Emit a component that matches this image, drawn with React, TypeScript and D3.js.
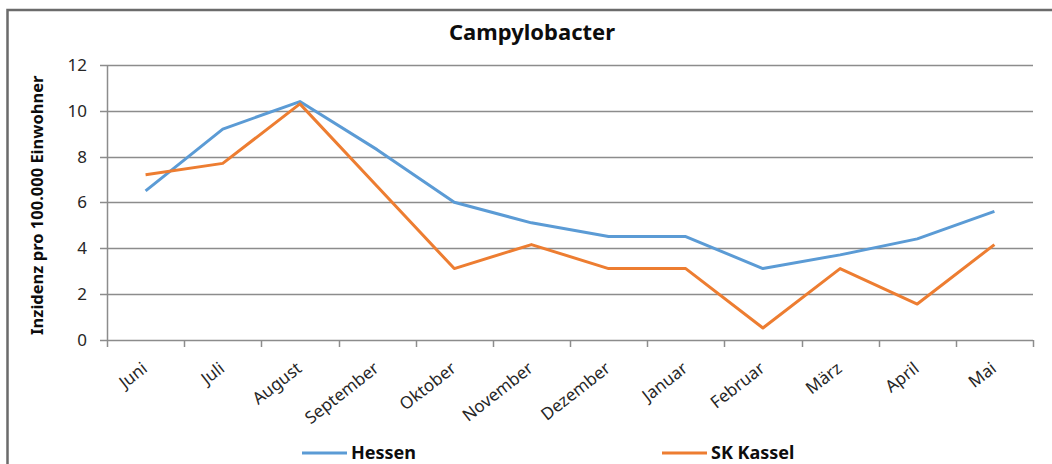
import { useEffect, useRef } from 'react';
import * as d3 from 'd3';

const months = [
  'Juni', 'Juli', 'August', 'September', 'Oktober', 'November',
  'Dezember', 'Januar', 'Februar', 'März', 'April', 'Mai',
];
const hessen = [6.5, 9.2, 10.4, 8.3, 6.0, 5.1, 4.5, 4.5, 3.1, 3.7, 4.4, 5.6];
const kassel = [7.2, 7.7, 10.3, 6.7, 3.1, 4.15, 3.1, 3.1, 0.5, 3.1, 1.55, 4.15];
const yTicks = [0, 2, 4, 6, 8, 10, 12];

const seriesList = [
  { name: 'Hessen', values: hessen, color: '#5B9BD5' },
  { name: 'SK Kassel', values: kassel, color: '#ED7D31' },
];

const W = 1052;
const H = 464;
const margin = { top: 65, right: 19, bottom: 125, left: 107 };
const font = '"Noto Sans", "Open Sans", sans-serif';

const App = () => {
  const ref = useRef<SVGSVGElement>(null);

  useEffect(() => {
    const svg = d3.select(ref.current);
    svg.selectAll('*').remove();

    svg.append('rect').attr('width', W).attr('height', H).attr('fill', 'white');

    // chart frame (only top + left visible, rest is cropped)
    svg.append('path')
      .attr('d', `M7.5,${H} L7.5,10 L${W},10`)
      .attr('fill', 'none')
      .attr('stroke', '#6b6b6b')
      .attr('stroke-width', 2.5);

    const x = d3.scaleBand<string>()
      .domain(months)
      .range([margin.left, W - margin.right]);
    const y = d3.scaleLinear()
      .domain([0, 12])
      .range([H - margin.bottom + 0.5, margin.top]);

    const plotRight = W - margin.right;
    const y0 = y(0);

    // gridlines
    svg.append('g')
      .selectAll('line')
      .data(yTicks)
      .enter()
      .append('line')
      .attr('x1', margin.left - 7)
      .attr('x2', plotRight)
      .attr('y1', (d: number) => Math.round(y(d)) + 0.5)
      .attr('y2', (d: number) => Math.round(y(d)) + 0.5)
      .attr('stroke', '#8c8c8c')
      .attr('stroke-width', 1.5);

    // y axis line
    svg.append('line')
      .attr('x1', margin.left + 0.5)
      .attr('x2', margin.left + 0.5)
      .attr('y1', margin.top)
      .attr('y2', Math.round(y0) + 7)
      .attr('stroke', '#8c8c8c')
      .attr('stroke-width', 1.5);

    // x ticks at category boundaries
    const bounds = months.map((m) => x(m) as number).concat([plotRight]);
    svg.append('g')
      .selectAll('line')
      .data(bounds.slice(1))
      .enter()
      .append('line')
      .attr('x1', (d: number) => Math.round(d) + 0.5)
      .attr('x2', (d: number) => Math.round(d) + 0.5)
      .attr('y1', Math.round(y0))
      .attr('y2', Math.round(y0) + 7)
      .attr('stroke', '#8c8c8c')
      .attr('stroke-width', 1.5);

    // y tick labels
    svg.append('g')
      .selectAll('text')
      .data(yTicks)
      .enter()
      .append('text')
      .attr('x', 87)
      .attr('y', (d: number) => y(d))
      .attr('dy', '0.36em')
      .attr('text-anchor', 'end')
      .style('font-family', font)
      .style('font-size', '17px')
      .attr('fill', '#262626')
      .text((d: number) => String(d));

    // x tick labels, rotated
    const cx = (m: string) => (x(m) as number) + x.bandwidth() / 2;
    svg.append('g')
      .selectAll('text')
      .data(months)
      .enter()
      .append('text')
      .attr('transform', (d: string) => `translate(${cx(d) + 3},${y0 + 31}) rotate(-38)`)
      .attr('text-anchor', 'end')
      .style('font-family', font)
      .style('font-size', '17px')
      .attr('fill', '#262626')
      .text((d: string) => d);

    // y axis title
    svg.append('text')
      .attr('transform', `translate(43,${(margin.top + y0) / 2 + 3}) rotate(-90)`)
      .attr('text-anchor', 'middle')
      .style('font-family', font)
      .style('font-size', '16.5px')
      .style('font-weight', 'bold')
      .attr('fill', '#0d0d0d')
      .text('Inzidenz pro 100.000 Einwohner');

    // chart title
    svg.append('text')
      .attr('x', 532)
      .attr('y', 40)
      .attr('text-anchor', 'middle')
      .style('font-family', font)
      .style('font-size', '22px')
      .style('font-weight', 'bold')
      .attr('fill', '#0d0d0d')
      .text('Campylobacter');

    // lines
    const line = d3.line<number>()
      .x((_d: number, i: number) => cx(months[i]))
      .y((d: number) => y(d));

    seriesList.forEach((s) => {
      svg.append('path')
        .datum(s.values)
        .attr('d', line)
        .attr('fill', 'none')
        .attr('stroke', s.color)
        .attr('stroke-width', 3)
        .attr('stroke-linejoin', 'round');
    });

    // legend, kept just inside the bottom edge
    const legendX = [302, 662];
    seriesList.forEach((s, i) => {
      const g = svg.append('g').attr('transform', `translate(${legendX[i]},453)`);
      g.append('line')
        .attr('x1', 0)
        .attr('x2', 45)
        .attr('stroke', s.color)
        .attr('stroke-width', 3);
      g.append('text')
        .attr('x', 49)
        .attr('y', 6)
        .style('font-family', font)
        .style('font-size', '18px')
        .style('font-weight', 'bold')
        .attr('fill', '#0d0d0d')
        .text(s.name);
    });
  }, []);

  return (
    <svg
      ref={ref}
      width={W}
      height={H}
      style={{ position: 'absolute', left: 0, top: 0, display: 'block' }}
    />
  );
};

export default App;
